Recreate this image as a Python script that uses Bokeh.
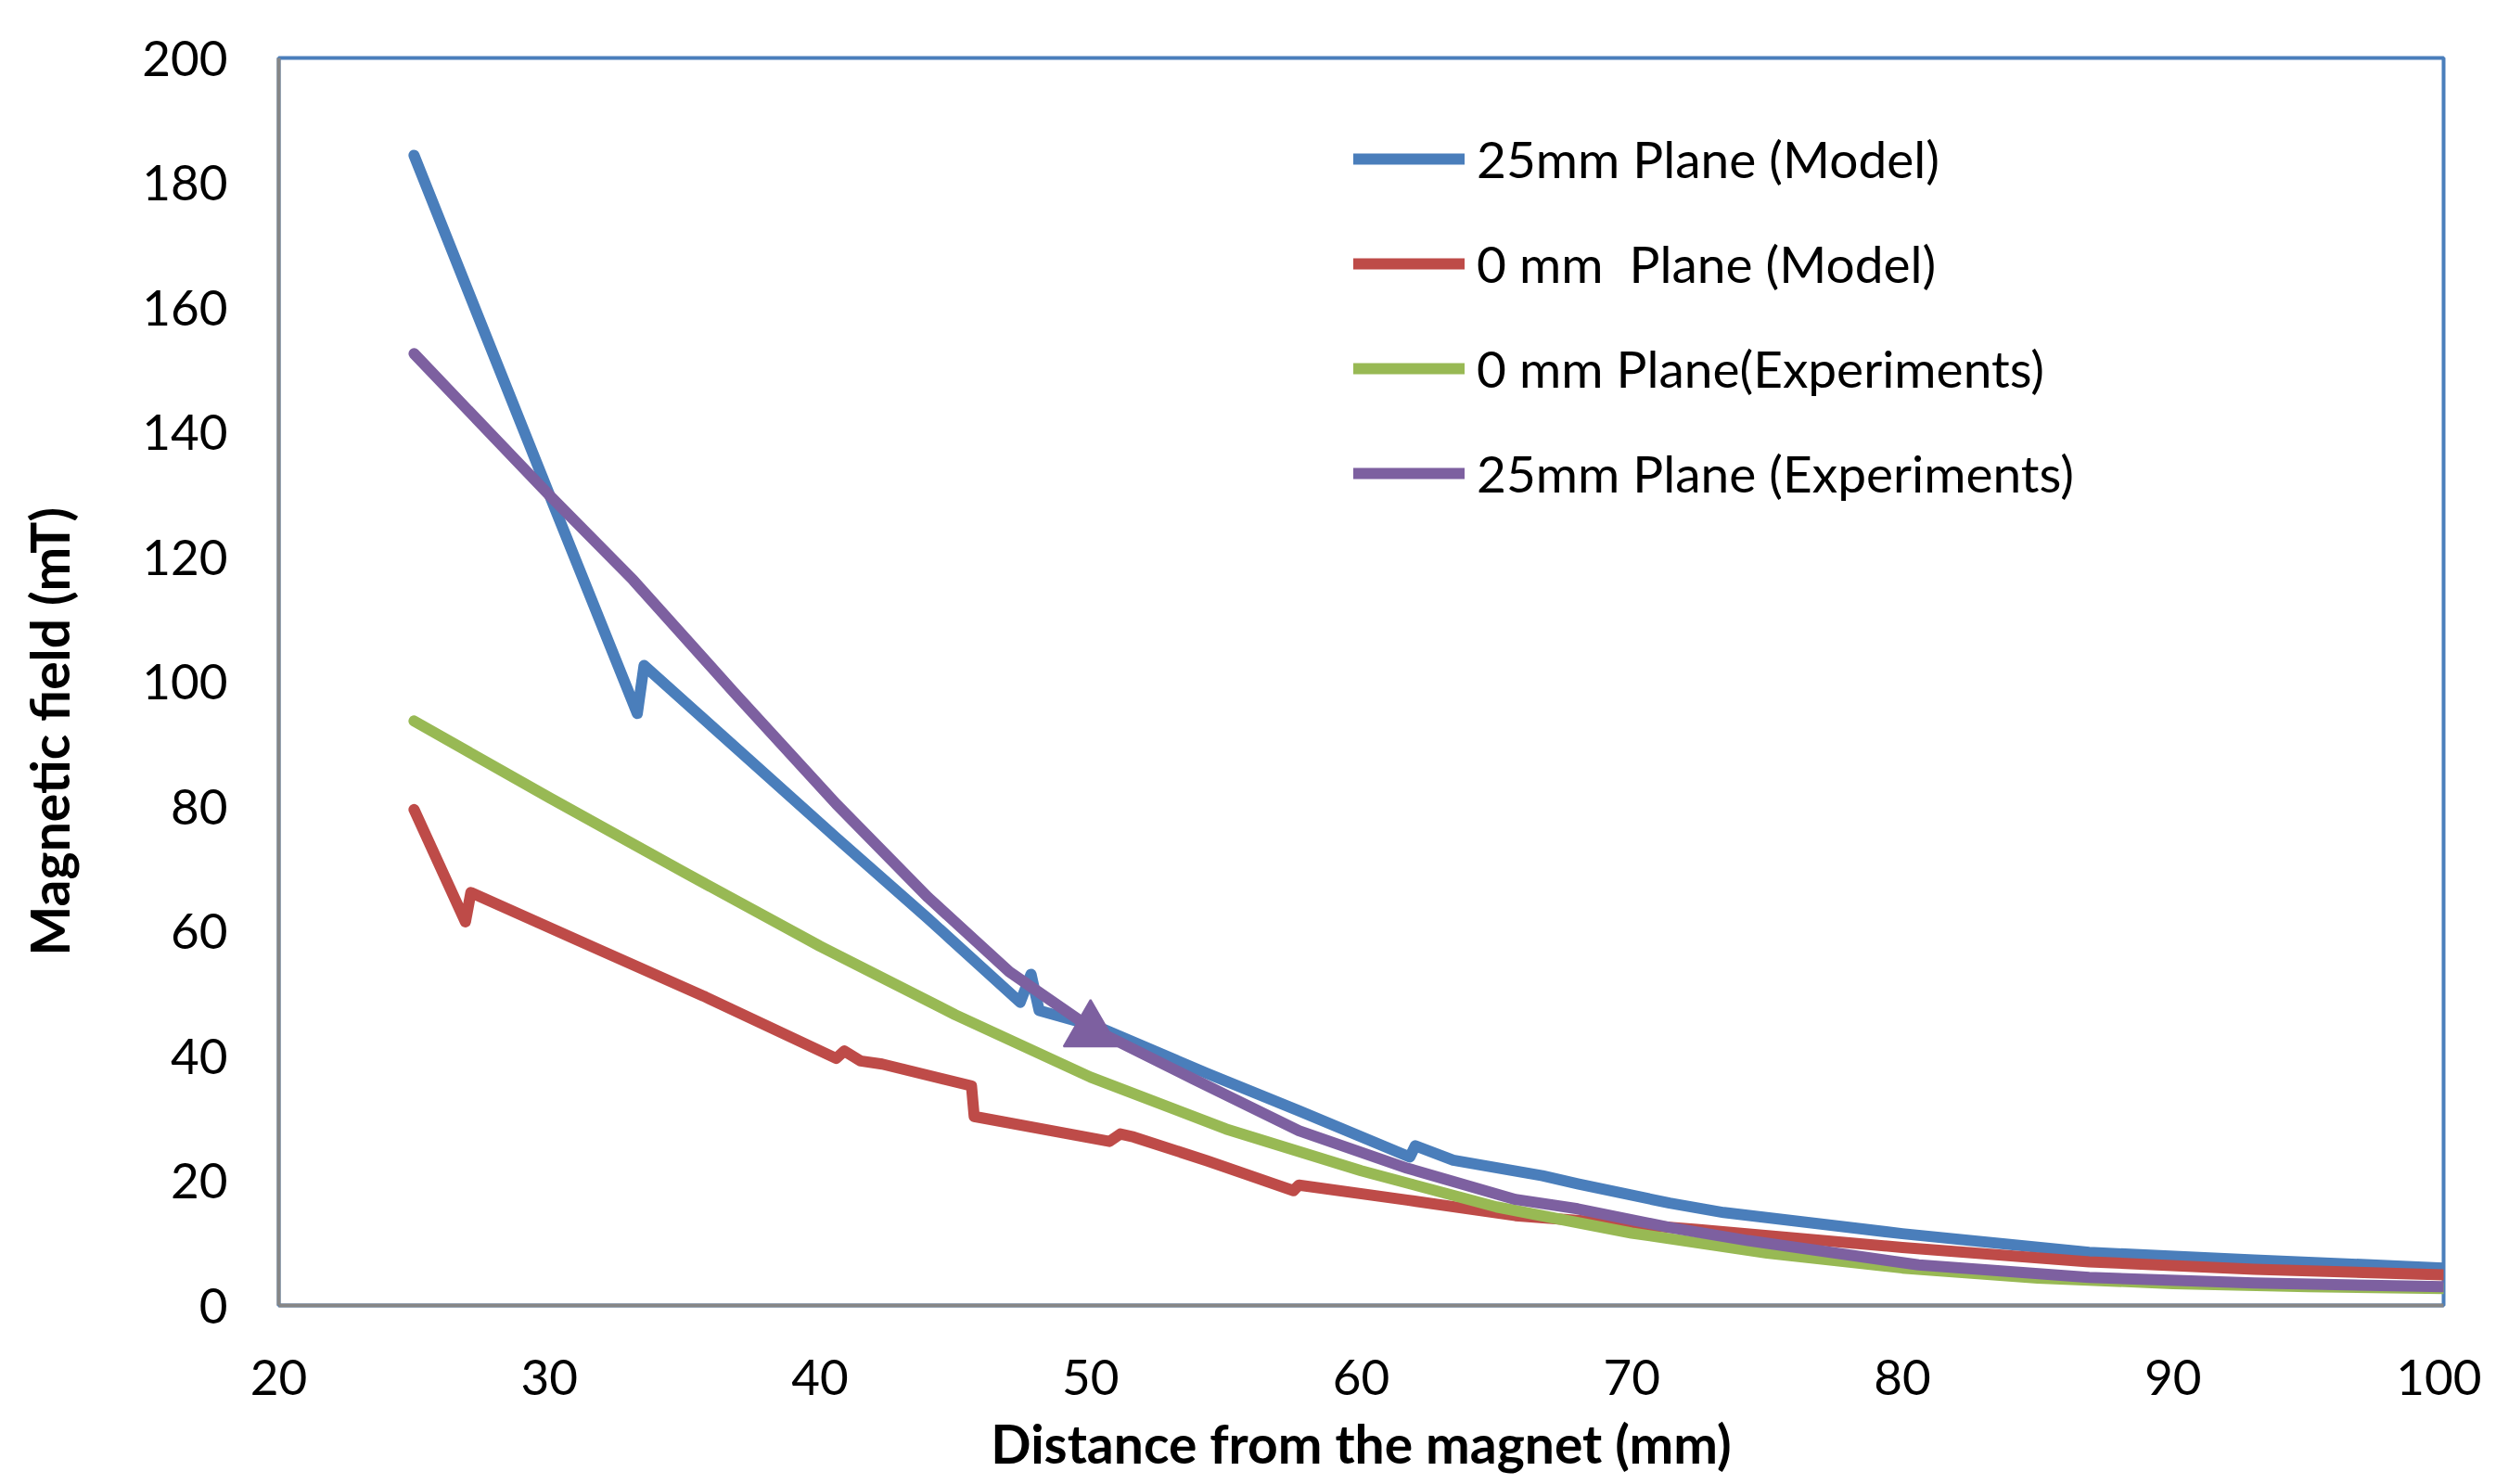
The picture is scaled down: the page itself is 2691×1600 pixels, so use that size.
from bokeh.plotting import figure
from bokeh.models import Range1d, FixedTicker, Legend, LegendItem, Title
from bokeh.embed import file_html
from bokeh.resources import INLINE

# ---- data ----
blue_x = [25, 27, 30, 33.25, 33.5, 37, 40.6, 44, 47.4, 47.8, 48.1, 50.3, 54.3, 57.7,
          61.8, 62.0, 63.4, 66.7, 68, 71.4, 73.4, 80, 86.9, 93, 100]
blue_y = [184.4, 162.6, 130, 94.9, 102.6, 89, 75, 62, 48.6, 53.1, 47.3, 44.6, 37.2, 31.2,
          23.8, 25.6, 23.3, 20.8, 19.5, 16.4, 14.9, 11.5, 8.5, 7.3, 6.0]

red_x = [25, 26.9, 27.1, 30.4, 35.7, 40.6, 40.9, 41.5, 42.3, 45.6, 45.7, 50.7, 51.1, 51.6, 54.3,
         57.5, 57.7, 61.7, 65.7, 72.4, 80, 86.9, 93, 100]
red_y = [79.5, 61.5, 66.2, 59.8, 49.6, 39.6, 40.8, 39.2, 38.7, 35.2, 30.3, 26.3, 27.5, 27.0, 23.2,
         18.4, 19.3, 16.9, 14.4, 12.2, 9.3, 7.0, 5.8, 4.9]

green_x = [25, 30, 35, 40, 45, 50, 55, 60, 65, 70, 75, 80, 85, 90, 95, 100]
green_y = [93.7, 81.4, 69.4, 57.6, 46.6, 36.6, 28.3, 21.6, 15.8, 11.6, 8.4, 6.0, 4.4, 3.5, 3.0, 2.7]

purple_x = [25, 30, 33.1, 36.8, 40.6, 44, 47, 50, 53.8, 57.7, 61.7, 65.7, 68, 71.4, 74.3,
            80.6, 86.9, 93, 100]
purple_y = [152.6, 129.9, 116.3, 98.4, 80.4, 65.4, 53.5, 44.5, 36.3, 28, 22, 17, 15.5, 12.5,
            10.4, 6.5, 4.5, 3.6, 3.0]

marker_x = [50]
marker_y = [44]

labels = ["25mm Plane (Model)", "0 mm  Plane (Model)", "0 mm Plane(Experiments)",
          "25mm Plane (Experiments)"]
x_title = "Distance from the magnet (mm)"
y_title = "Magnetic field (mT)"
x_ticks = [20, 30, 40, 50, 60, 70, 80, 90, 100]
y_ticks = [0, 20, 40, 60, 80, 100, 120, 140, 160, 180, 200]

colors = ["#4A7EBB", "#BE4B48", "#98B954", "#7D60A0"]
FONT = "Lato"

p = figure(width=2675, height=1600, x_range=Range1d(20, 100), y_range=Range1d(0, 200),
           output_backend="svg", toolbar_location=None,
           min_border_left=300, min_border_right=41, min_border_top=62, min_border_bottom=193)
p.xgrid.visible = False
p.ygrid.visible = False
p.outline_line_color = "#4A7EBB"
p.outline_line_width = 4
p.background_fill_color = "white"
p.border_fill_color = "white"

for ax in (p.xaxis[0], p.yaxis[0]):
    ax.axis_line_color = "#868686"
    ax.axis_line_width = 4
    ax.major_tick_line_color = None
    ax.minor_tick_line_color = None
    ax.major_tick_out = 0
    ax.major_tick_in = 0
    ax.major_label_text_font = FONT
    ax.major_label_text_font_size = "53px"
    ax.major_label_text_color = "black"
    ax.axis_label_text_font = FONT
    ax.axis_label_text_font_size = "57px"
    ax.axis_label_text_font_style = "bold"
    ax.axis_label_text_color = "black"

p.xaxis.ticker = FixedTicker(ticks=x_ticks)
p.yaxis.ticker = FixedTicker(ticks=y_ticks)
p.xaxis.major_label_standoff = 58
p.yaxis.major_label_standoff = 55

# x title: ordinary axis label
p.xaxis.axis_label = x_title
p.xaxis.axis_label_standoff = 15

# y title: sits below the axis centre in the reference -> left-side Title with offset,
# pushed outward by a blank spacer label on the y axis
p.yaxis.axis_label = " "
p.yaxis.axis_label_standoff = 0
p.yaxis.axis_label_text_font_size = "51px"
p.add_layout(Title(text=y_title, align="left", offset=377, vertical_align="bottom",
                   standoff=0, text_font=FONT, text_font_size="57px",
                   text_font_style="bold", text_color="black"), "left")

series = [(blue_x, blue_y), (red_x, red_y), (green_x, green_y), (purple_x, purple_y)]
renderers = []
for (xs, ys), c in zip(series, colors):
    r = p.line(xs, ys, line_color=c, line_width=12, line_cap="round", line_join="round")
    renderers.append(r)

p.scatter(marker_x, marker_y, marker="triangle", size=58, fill_color=colors[3],
          line_color=colors[3], line_width=2)

legend = Legend(items=[LegendItem(label=l, renderers=[r]) for l, r in zip(labels, renderers)],
                location=(1159, 864))
legend.label_text_font = FONT
legend.label_text_font_size = "55px"
legend.label_text_color = "black"
legend.glyph_width = 120
legend.glyph_height = 60
legend.label_height = 60
legend.spacing = 47
legend.label_standoff = 13
legend.padding = 0
legend.margin = 0
legend.border_line_alpha = 0
legend.background_fill_alpha = 0
p.add_layout(legend)

open("out.html", "w").write(file_html(p, INLINE))
